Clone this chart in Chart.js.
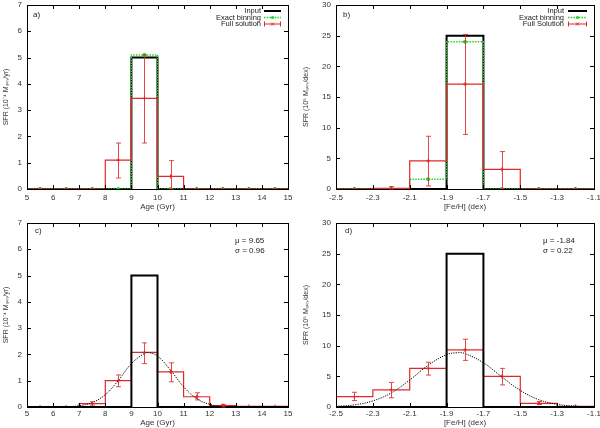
<!DOCTYPE html>
<html>
<head>
<meta charset="utf-8">
<script src="https://cdn.jsdelivr.net/npm/chart.js@4.4.0/dist/chart.umd.min.js"></script>
<style>
  body { margin: 0; background: #fff; }
  .panel { position: absolute; width: 300px; height: 214px; }
</style>
</head>
<body>
<div class="panel" style="left:0;top:0"><canvas id="pa"></canvas></div>
<div class="panel" style="left:300px;top:0"><canvas id="pb"></canvas></div>
<div class="panel" style="left:0;top:214px"><canvas id="pc"></canvas></div>
<div class="panel" style="left:300px;top:214px"><canvas id="pd"></canvas></div>
<script>
// bins and ticks
const ageEdges = [5, 6, 7, 8, 9, 10, 11, 12, 13, 14, 15];
const ageCentres = [5.5, 6.5, 7.5, 8.5, 9.5, 10.5, 11.5, 12.5, 13.5, 14.5];
const fehEdges = [-2.5, -2.3, -2.1, -1.9, -1.7, -1.5, -1.3, -1.1];
const fehCentres = [-2.4, -2.2, -2.0, -1.8, -1.6, -1.4, -1.2];

const ageTicks = [5, 6, 7, 8, 9, 10, 11, 12, 13, 14, 15];
const fehTicks = [-2.5, -2.3, -2.1, -1.9, -1.7, -1.5, -1.3, -1.1];
const ageYTicks = [0, 1, 2, 3, 4, 5, 6, 7];
const fehYTicks = [0, 5, 10, 15, 20, 25, 30];

// panel a
const inputAge = [0, 0, 0, 0, 5, 0, 0, 0, 0, 0];
const exactAge = [0, 0, 0, 0, 5.1, 0, 0, 0, 0, 0];
const fullAgeA = [0, 0, 0, 1.1, 3.45, 0.48, 0, 0, 0, 0];
const fullAgeALo = [null, null, null, 0.42, 1.75, 0.0, null, null, null, null];
const fullAgeAHi = [null, null, null, 1.75, 5.1, 1.08, null, null, null, null];

// panel b
const inputFeh = [0, 0, 0, 25, 0, 0, 0];
const exactFeh = [0, 0, 1.6, 24, 0, 0, 0];
const fullFehB = [0, 0.1, 4.6, 17.1, 3.2, 0, 0];
const fullFehBLo = [null, 0.0, 0.5, 8.9, 0.1, null, null];
const fullFehBHi = [null, 0.4, 8.6, 25.2, 6.1, null, null];

// panel c
const fullAgeC = [0.0, 0.0, 0.13, 1.0, 2.08, 1.34, 0.39, 0.05, 0.02, 0.02];
const fullAgeCLo = [null, null, 0.07, 0.77, 1.65, 0.96, 0.27, 0.0, null, null];
const fullAgeCHi = [null, null, 0.2, 1.22, 2.44, 1.68, 0.54, 0.1, null, null];
const fitAgeX = [5, 5.5, 6, 6.5, 7, 7.5, 8, 8.5, 9, 9.5, 9.65, 10, 10.5, 11, 11.5, 12, 12.5, 13, 13.5, 14, 14.5, 15];
const fitAgeY = [0, 0, 0, 0.01, 0.05, 0.17, 0.47, 1.01, 1.65, 2.04, 2.07, 1.94, 1.4, 0.77, 0.32, 0.1, 0.02, 0, 0, 0, 0, 0];

// panel d
const fullFehD = [1.7, 2.8, 6.3, 9.3, 5.0, 0.6, 0.1];
const fullFehDLo = [1.05, 1.5, 5.2, 7.6, 3.6, 0.4, null];
const fullFehDHi = [2.4, 4.0, 7.3, 11.05, 6.3, 0.9, null];
const fitFehX = [-2.5, -2.4, -2.3, -2.2, -2.1, -2.0, -1.9, -1.84, -1.8, -1.7, -1.6, -1.5, -1.4, -1.3, -1.2, -1.1];
const fitFehY = [0.1, 0.35, 1.0, 2.3, 4.4, 6.8, 8.53, 8.85, 8.71, 7.2, 4.9, 2.7, 1.2, 0.44, 0.13, 0.03];

const RED = 'rgb(225,40,40)';
const GREEN = 'rgb(40,210,40)';

Chart.defaults.font.family = "'Liberation Sans', Arial, sans-serif";
Chart.defaults.font.size = 8;
Chart.defaults.color = '#333';
Chart.defaults.animation = false;

function steps(edges, vals) {
  const pts = vals.map((v, i) => ({ x: edges[i], y: v }));
  pts.push({ x: edges[edges.length - 1], y: vals[vals.length - 1] });
  return pts;
}
function pairs(xs, ys) {
  return xs.map((x, i) => ({ x: x, y: ys[i] }));
}
function stepLine(data, color, width, dash) {
  return { data: data, stepped: 'before', borderColor: color, borderWidth: width,
    borderDash: dash || [], pointRadius: 0, fill: false };
}
function marks(data, color, style, r) {
  return { data: data, showLine: false, pointStyle: style, pointRadius: r,
    borderColor: color, backgroundColor: color, borderWidth: 1 };
}

// frame with inward ticks on all four sides
const framePlugin = {
  id: 'frame',
  afterDatasetsDraw(chart) {
    const { ctx, chartArea: a, scales: { x, y } } = chart;
    ctx.save();
    ctx.strokeStyle = '#000';
    ctx.lineWidth = 1;
    ctx.beginPath();
    x.ticks.forEach(t => {
      const px = Math.round(x.getPixelForValue(t.value)) + 0.5;
      ctx.moveTo(px, a.bottom); ctx.lineTo(px, a.bottom - 4);
      ctx.moveTo(px, a.top); ctx.lineTo(px, a.top + 4);
    });
    y.ticks.forEach(t => {
      const py = Math.round(y.getPixelForValue(t.value)) + 0.5;
      ctx.moveTo(a.left, py); ctx.lineTo(a.left + 4, py);
      ctx.moveTo(a.right, py); ctx.lineTo(a.right - 4, py);
    });
    ctx.stroke();
    ctx.strokeRect(Math.round(a.left) + 0.5, Math.round(a.top) + 0.5,
      Math.round(a.right - a.left), Math.round(a.bottom - a.top));
    ctx.restore();
  }
};

function errorBars(xs, lo, hi) {
  return {
    id: 'errbars',
    afterDatasetsDraw(chart) {
      const { ctx, scales: { x, y } } = chart;
      ctx.save();
      ctx.strokeStyle = 'rgba(225,40,40,0.85)';
      ctx.lineWidth = 1;
      ctx.beginPath();
      xs.forEach((xv, i) => {
        if (lo[i] === null) return;
        const px = Math.round(x.getPixelForValue(xv)) + 0.5;
        const p1 = y.getPixelForValue(lo[i]);
        const p2 = y.getPixelForValue(hi[i]);
        ctx.moveTo(px, p1); ctx.lineTo(px, p2);
        ctx.moveTo(px - 2.5, p1); ctx.lineTo(px + 2.5, p1);
        ctx.moveTo(px - 2.5, p2); ctx.lineTo(px + 2.5, p2);
      });
      ctx.stroke();
      ctx.restore();
    }
  };
}

function keyBox(labels, textRight, lineFrom, lineTo, rows) {
  return {
    id: 'keybox',
    afterDraw(chart) {
      const ctx = chart.ctx;
      ctx.save();
      ctx.font = "7.5px 'Liberation Sans', Arial, sans-serif";
      ctx.fillStyle = '#222';
      ctx.textAlign = 'right';
      ctx.textBaseline = 'middle';
      labels.forEach((t, i) => ctx.fillText(t, textRight, rows[i]));
      const mid = (lineFrom + lineTo) / 2;
      // input
      ctx.strokeStyle = '#000'; ctx.lineWidth = 2;
      ctx.beginPath(); ctx.moveTo(lineFrom, rows[0]); ctx.lineTo(lineTo, rows[0]); ctx.stroke();
      // exact binning
      ctx.strokeStyle = GREEN; ctx.lineWidth = 1.5; ctx.setLineDash([1.5, 1.2]);
      ctx.beginPath(); ctx.moveTo(lineFrom, rows[1]); ctx.lineTo(lineTo, rows[1]); ctx.stroke();
      ctx.setLineDash([]);
      ctx.fillStyle = GREEN;
      ctx.beginPath(); ctx.arc(mid, rows[1], 1.6, 0, Math.PI * 2); ctx.fill();
      // full solution
      ctx.strokeStyle = RED; ctx.lineWidth = 1;
      ctx.beginPath();
      ctx.moveTo(lineFrom, rows[2]); ctx.lineTo(lineTo, rows[2]);
      ctx.moveTo(lineFrom + 0.5, rows[2] - 2.5); ctx.lineTo(lineFrom + 0.5, rows[2] + 2.5);
      ctx.moveTo(lineTo - 0.5, rows[2] - 2.5); ctx.lineTo(lineTo - 0.5, rows[2] + 2.5);
      ctx.moveTo(mid - 1.5, rows[2] - 1.5); ctx.lineTo(mid + 1.5, rows[2] + 1.5);
      ctx.moveTo(mid + 1.5, rows[2] - 1.5); ctx.lineTo(mid - 1.5, rows[2] + 1.5);
      ctx.stroke();
      ctx.restore();
    }
  };
}

function notes(items) {
  return {
    id: 'notes',
    afterDraw(chart) {
      const ctx = chart.ctx;
      ctx.save();
      ctx.font = "8px 'Liberation Sans', Arial, sans-serif";
      ctx.fillStyle = '#222';
      ctx.textAlign = 'left';
      ctx.textBaseline = 'middle';
      items.forEach(n => ctx.fillText(n.text, n.x, n.y));
      ctx.restore();
    }
  };
}

function panel(id, o) {
  return new Chart(document.getElementById(id), {
    type: 'line',
    data: { datasets: o.datasets },
    options: {
      responsive: true,
      maintainAspectRatio: false,
      layout: { padding: { top: o.top, right: o.right, left: 0, bottom: 0 } },
      plugins: { legend: { display: false }, tooltip: { enabled: false } },
      scales: {
        x: {
          type: 'linear', min: o.xTicks[0], max: o.xTicks[o.xTicks.length - 1],
          afterBuildTicks: s => { s.ticks = o.xTicks.map(v => ({ value: v })); },
          afterFit: s => { s.height = o.xHeight; s.paddingLeft = 0; s.paddingRight = 0; },
          grid: { display: false, drawTicks: false },
          border: { display: false },
          ticks: { padding: o.tickPad, maxRotation: 0, autoSkip: false,
            callback: v => o.decimals ? v.toFixed(1) : String(v) },
          title: { display: true, text: o.xTitle, padding: { top: 0, bottom: o.titlePad } }
        },
        y: {
          type: 'linear', min: 0, max: o.yTicks[o.yTicks.length - 1],
          afterBuildTicks: s => { s.ticks = o.yTicks.map(v => ({ value: v })); },
          afterFit: s => { s.width = o.yWidth; s.paddingTop = 0; s.paddingBottom = 0; },
          grid: { display: false, drawTicks: false },
          border: { display: false },
          ticks: { padding: 5, autoSkip: false },
          title: { display: true, text: o.yTitle, font: { size: 7 }, padding: { top: 2, bottom: 0 } }
        }
      }
    },
    plugins: [framePlugin].concat(o.extra)
  });
}

const ageYTitle = 'SFR (10\u207B\u2074 M\u209B\u1D64\u2099/yr)';
const fehYTitle = 'SFR (10\u2075 M\u209B\u1D64\u2099/dex)';

panel('pa', {
  xTicks: ageTicks, yTicks: ageYTicks, xTitle: 'Age (Gyr)', yTitle: ageYTitle,
  top: 5, right: 12, xHeight: 25, yWidth: 27, tickPad: 4, titlePad: 2,
  datasets: [
    marks(pairs(ageCentres, fullAgeA), RED, 'cross', 2),
    stepLine(steps(ageEdges, fullAgeA), RED, 1.2),
    marks(pairs(ageCentres, exactAge), GREEN, 'circle', 1.6),
    stepLine(steps(ageEdges, exactAge), GREEN, 1.5, [1.5, 1.2]),
    stepLine(steps(ageEdges, inputAge), '#000', 2)
  ],
  extra: [
    errorBars(ageCentres, fullAgeALo, fullAgeAHi),
    keyBox(['Input', 'Exact binning', 'Full solution'], 261, 264, 281, [11, 17.5, 24]),
    notes([{ text: 'a)', x: 33, y: 15 }])
  ]
});

panel('pb', {
  xTicks: fehTicks, yTicks: fehYTicks, xTitle: '[Fe/H] (dex)', yTitle: fehYTitle, decimals: true,
  top: 5, right: 6, xHeight: 25, yWidth: 36, tickPad: 4, titlePad: 2,
  datasets: [
    marks(pairs(fehCentres, fullFehB), RED, 'cross', 2),
    stepLine(steps(fehEdges, fullFehB), RED, 1.2),
    marks(pairs(fehCentres, exactFeh), GREEN, 'circle', 1.6),
    stepLine(steps(fehEdges, exactFeh), GREEN, 1.5, [1.5, 1.2]),
    stepLine(steps(fehEdges, inputFeh), '#000', 2)
  ],
  extra: [
    errorBars(fehCentres, fullFehBLo, fullFehBHi),
    keyBox(['Input', 'Exact binning', 'Full Solution'], 264, 268, 287, [11, 17.5, 24]),
    notes([{ text: 'b)', x: 43, y: 15 }])
  ]
});

panel('pc', {
  xTicks: ageTicks, yTicks: ageYTicks, xTitle: 'Age (Gyr)', yTitle: ageYTitle,
  top: 9, right: 12, xHeight: 21, yWidth: 27, tickPad: 2, titlePad: 0,
  datasets: [
    { data: pairs(fitAgeX, fitAgeY), borderColor: '#000', borderWidth: 1, borderDash: [1.2, 1.2],
      pointRadius: 0, tension: 0.4, fill: false },
    stepLine(steps(ageEdges, inputAge), '#000', 2),
    marks(pairs(ageCentres, fullAgeC), RED, 'cross', 2),
    stepLine(steps(ageEdges, fullAgeC), RED, 1.2)
  ],
  extra: [
    errorBars(ageCentres, fullAgeCLo, fullAgeCHi),
    notes([
      { text: 'c)', x: 35, y: 17 },
      { text: '\u03BC = 9.65', x: 235, y: 27 },
      { text: '\u03C3 = 0.96', x: 235, y: 37 }
    ])
  ]
});

panel('pd', {
  xTicks: fehTicks, yTicks: fehYTicks, xTitle: '[Fe/H] (dex)', yTitle: fehYTitle, decimals: true,
  top: 9, right: 6, xHeight: 21, yWidth: 36, tickPad: 2, titlePad: 0,
  datasets: [
    { data: pairs(fitFehX, fitFehY), borderColor: '#000', borderWidth: 1, borderDash: [1.2, 1.2],
      pointRadius: 0, tension: 0.4, fill: false },
    stepLine(steps(fehEdges, inputFeh), '#000', 2),
    marks(pairs(fehCentres, fullFehD), RED, 'cross', 2),
    stepLine(steps(fehEdges, fullFehD), RED, 1.2)
  ],
  extra: [
    errorBars(fehCentres, fullFehDLo, fullFehDHi),
    notes([
      { text: 'd)', x: 45, y: 17 },
      { text: '\u03BC = -1.84', x: 243, y: 27 },
      { text: '\u03C3 = 0.22', x: 243, y: 37 }
    ])
  ]
});
</script>
</body>
</html>
